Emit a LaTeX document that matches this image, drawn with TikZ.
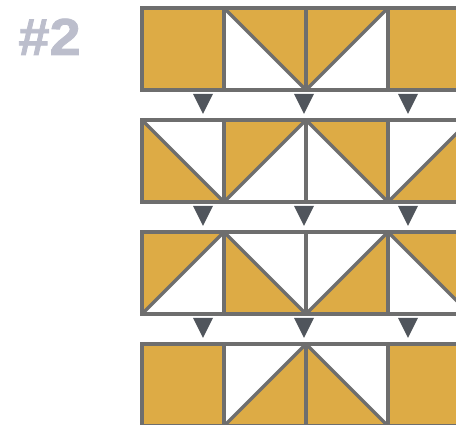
\documentclass[tikz,border=0pt]{standalone}
\usepackage{fontspec}
\newfontfamily\qtfont[FakeBold=1.5,FakeStretch=1.08]{Liberation Sans Bold}
\usepackage{xcolor}
\usepackage{tikz}
\definecolor{qtGold}{HTML}{DDAB45}
\definecolor{qtSeam}{HTML}{6E6E6E}
\definecolor{qtMark}{HTML}{50555C}
\definecolor{qtLabel}{HTML}{BCBECC}
\tikzset{
  qt diagram/.style={x=0.025cm, y=-0.025cm},
  qt patch/.style={fill=qtGold},
  qt seam/.style={draw=qtSeam, line width=2.5pt},
  qt mark/.style={fill=qtMark},
  qt label/.style={font=\qtfont\fontsize{37}{37}\selectfont,
    text=qtLabel, inner sep=0pt, anchor=base west}
}
\begin{document}
\begin{tikzpicture}[qt diagram]
\useasboundingbox (0,0) rectangle (456,425);
\clip (0,0) rectangle (456,425);
\node[qt label] (title) at (18,55) {\#2};
% whole gold squares
\foreach \c/\r in {0/0,3/0,0/3,3/3}
  \fill[qt patch] ({142+82*\c},{8+112*\r}) rectangle +(82,82);
% gold halves, named by the corner they hold
\foreach \c/\r in {1/0,2/1,3/2}
  \fill[qt patch] ({142+82*\c},{8+112*\r}) -- +(82,0) -- +(82,82) -- cycle;
\foreach \c/\r in {2/0,1/1,0/2}
  \fill[qt patch] ({142+82*\c},{8+112*\r}) -- +(82,0) -- +(0,82) -- cycle;
\foreach \c/\r in {0/1,1/2,2/3}
  \fill[qt patch] ({142+82*\c},{8+112*\r}) -- +(0,82) -- +(82,82) -- cycle;
\foreach \c/\r in {3/1,2/2,1/3}
  \fill[qt patch] ({142+82*\c},{8+112*\r}) ++(82,0) -- +(0,82) -- +(-82,82) -- cycle;
% seams
\foreach \r in {0,...,3}
  \foreach \c in {0,...,3}
    \draw[qt seam] ({142+82*\c},{8+112*\r}) rectangle +(82,82);
\foreach \c/\r in {1/0,2/1,3/2,0/1,1/2,2/3}
  \draw[qt seam] ({142+82*\c},{8+112*\r}) -- +(82,82);
\foreach \c/\r in {2/0,1/1,0/2,3/1,2/2,1/3}
  \draw[qt seam] ({142+82*\c},{90+112*\r}) -- +(82,-82);
% markers between rows
\foreach \r in {0,1,2}
  \foreach \x in {203,304,408}
    \fill[qt mark] ({\x-10},{94+112*\r}) -- ({\x+10},{94+112*\r})
      -- (\x,{114+112*\r}) -- cycle;
\end{tikzpicture}
\end{document}
